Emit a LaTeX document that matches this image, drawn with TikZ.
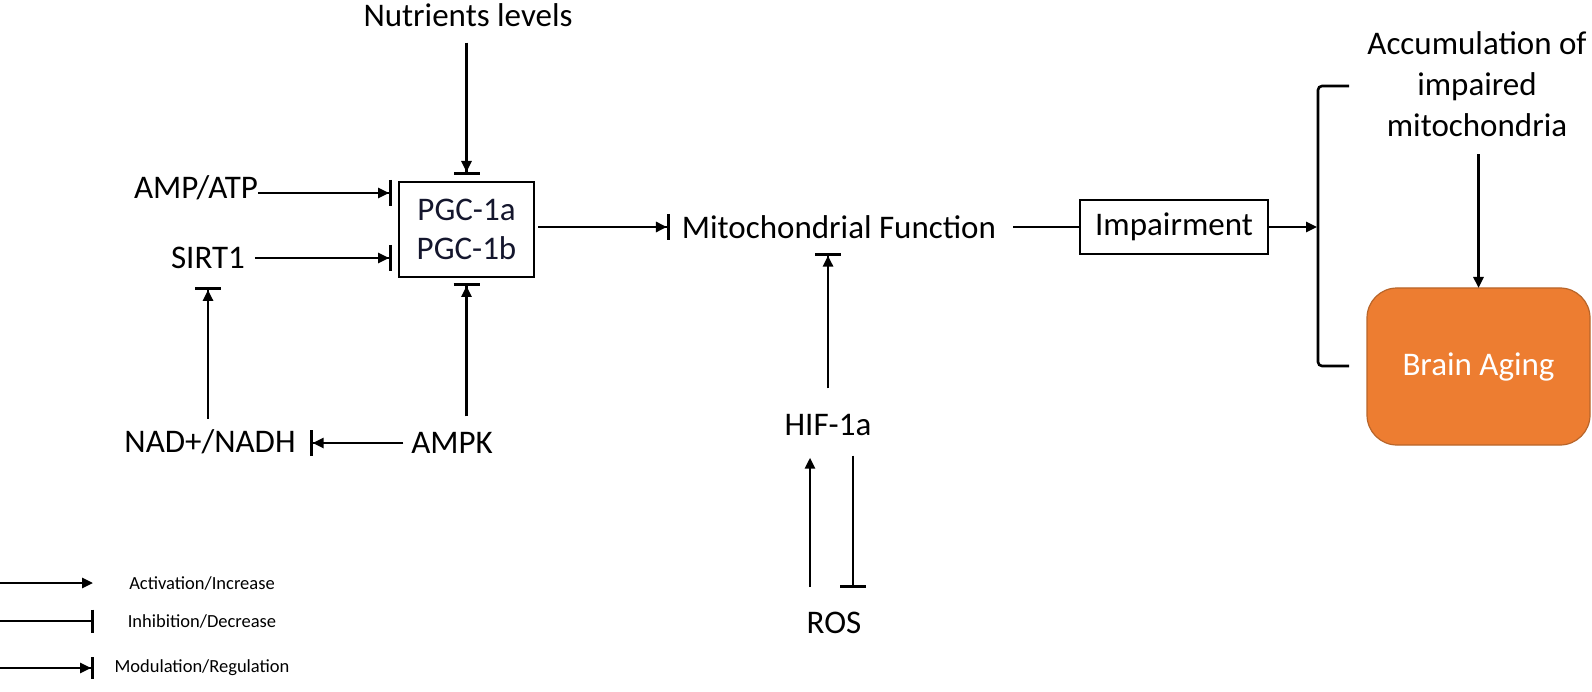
\documentclass[tikz,border=0pt]{standalone}
\usepackage{fontspec}
\setmainfont{Carlito}
\usetikzlibrary{arrows.meta,calc}
\definecolor{brainorange}{HTML}{ED7D31}
\definecolor{brainedge}{HTML}{B8652A}
\definecolor{pgcink}{RGB}{20,22,45}
\newcommand\mainsz{\fontsize{33}{39}\selectfont}
\newcommand\accsz{\fontsize{33}{41}\selectfont}
\newcommand\legsz{\fontsize{18.5}{22}\selectfont}
\begin{document}
\begin{tikzpicture}[x=1pt,y=-1pt,
  lbl/.style={inner sep=0pt,outer sep=0pt,font=\mainsz},
  boxnode/.style={draw,line width=1.6pt,inner sep=0pt,outer sep=0pt,font=\mainsz},
  legtxt/.style={inner sep=0pt,outer sep=0pt,font=\legsz},
  conn/.style={line width=2.6pt},
  act/.style={conn,-{Triangle[length=11pt,width=10pt]}},
  inh/.style={conn,-{Bar[width=26pt,line width=3pt]}},
  modu/.style={conn,-{Triangle[length=11pt,width=10pt]Bar[width=26pt,line width=3pt]}},
  linh/.style={conn,-{Bar[width=23pt,line width=3pt]}},
  lmodu/.style={conn,-{Triangle[length=11pt,width=10pt]Bar[width=22pt,line width=3pt]}},
]
\useasboundingbox (0,0) rectangle (1592,692);

% nodes
\node[lbl] (nut) at (468,15) {Nutrients levels};
\node[boxnode,minimum width=135pt,minimum height=95pt,align=center,text=pgcink] (pgc) at (466.5,229.5) {PGC-1a\\PGC-1b};
\node[lbl] (amp) at (196,188) {AMP/ATP};
\node[lbl] (sirt) at (208,258) {SIRT1};
\node[lbl] (nad) at (210,442) {NAD+/NADH};
\node[lbl] (ampk) at (452,443) {AMPK};
\node[lbl] (mito) at (839,227) {Mitochondrial Function};
\node[lbl] (hif) at (828,425) {HIF-1a};
\node[lbl] (ros) at (834,623) {ROS};
\node[boxnode,minimum width=188pt,minimum height=54pt] (imp) at (1174,227) {Impairment};
\node[inner sep=0pt,outer sep=0pt,font=\accsz,align=center,anchor=north] (acc) at (1477,32) {Accumulation of\\impaired\\mitochondria};
\node[draw=brainedge,line width=1.2pt,fill=brainorange,rounded corners=30pt,minimum width=223pt,minimum height=157pt,text=white,font=\mainsz,inner sep=0pt,outer sep=0pt] (brain) at (1478.5,366.5) {Brain Aging};

% connectors
\draw[modu,shorten <=16pt,shorten >=7pt] (nut.south -| pgc.north) -- (pgc.north);
\draw[modu,shorten >=7pt] ([yshift=-5pt]amp.east) -- ([yshift=-5pt]amp.east -| pgc.west);
\draw[modu,shorten <=10pt,shorten >=7pt] (sirt.east) -- (sirt.east -| pgc.west);
\draw[modu,shorten <=4pt,shorten >=12pt] (pgc.east |- mito.west) -- (mito.west);
\draw[modu,shorten <=16pt,shorten >=6pt] (ampk.north -| pgc.south) -- (pgc.south);
\draw[modu,shorten <=8pt,shorten >=14pt] (ampk.west) -- (ampk.west -| nad.east);
\draw[modu,shorten <=11pt,shorten >=18pt] (nad.north -| sirt.south) -- (sirt.south);
\draw[modu,shorten <=26pt,shorten >=14pt] (hif.north) -- (hif.north |- mito.south);
\draw[act,shorten <=25pt,shorten >=22pt] ([xshift=-24pt]ros.north) -- ([xshift=-24pt]ros.north |- hif.south);
\draw[inh,shorten <=20pt,shorten >=24pt] ([xshift=19pt]ros.north |- hif.south) -- ([xshift=19pt]ros.north);
\draw[conn,shorten <=17pt] (mito.east) -- (mito.east -| imp.west);

% bracket
\coordinate (brtop) at (1349,86);
\coordinate (brtl) at (1318,86);
\coordinate (brbl) at (1318,366);
\coordinate (brbot) at (1349,366);
\draw[conn,rounded corners=4pt] (brtop) -- (brtl) -- (brbl) -- (brbot);
\draw[act,shorten >=1pt] (imp.east) -- (imp.east -| brtl);
\draw[act,shorten <=17pt] (acc.south -| brain.north) -- (brain.north);

% legend
\coordinate (la0) at (0,583); \coordinate (la1) at (93,583);
\coordinate (lb0) at (0,621); \coordinate (lb1) at (94,621);
\coordinate (lc0) at (0,668); \coordinate (lc1) at (94,668);
\draw[act] (la0) -- (la1);
\draw[linh] (lb0) -- (lb1);
\draw[lmodu] (lc0) -- (lc1);
\node[legtxt] (lta) at (202,583) {Activation/Increase};
\node[legtxt] (ltb) at (202,621) {Inhibition/Decrease};
\node[legtxt] (ltc) at (202,668) {Modulation/Regulation};
\end{tikzpicture}
\end{document}
